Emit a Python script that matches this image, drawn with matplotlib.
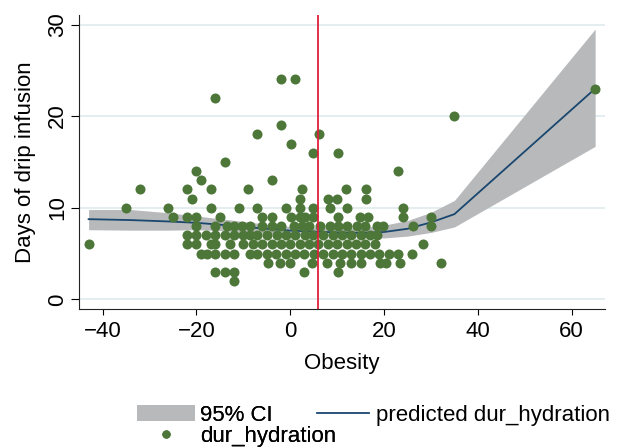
import matplotlib
matplotlib.use("Agg")
import matplotlib.pyplot as plt
from matplotlib.patches import Patch
from matplotlib.lines import Line2D

plt.rcParams['font.family'] = ['Liberation Sans', 'DejaVu Sans']

# ---- data: observed points, grouped by y value (days) ----
rows = {
    24: [-2, 1],
    23: [65],
    22: [-16],
    20: [35],
    19: [-2],
    18: [-7.2, 6.2],
    17: [0.1],
    16: [4.9, 10.1],
    15: [-14],
    14: [-20, 23],
    13: [-19, -4],
    12: [-32, -22, -17, -9, 2.5, 11.9, 16.1],
    11: [-21, 2, 8.1, 9.9, 16.1],
    10: [-35, -26, -17, -11, -7.2, -1, 2.1, 4.9, 8.5, 12, 24.1],
    9: [-25, -22, -20, -15, -6, -4, 0.1, 2.1, 3.1, 4.9, 10.2, 14.9, 16.6, 24.1, 30.1],
    8: [-20, -16, -13.6, -12, -10.4, -8.6, -6, -4, -2, 0.7, 2.5, 4, 6.3, 8.5, 10.2, 12, 14.2, 15.9, 18.4, 19.8, 26.1, 30.1],
    7: [-22, -20, -18, -16, -13.9, -12, -10, -8.6, -7, -5, -2.9, -1, 1, 3.1, 4.9, 7, 9, 11, 13, 15, 17, 18.5],
    6: [-43, -22, -20, -17, -16, -12.9, -10, -7.9, -6, -4, -2, 0, 2, 4, 6, 8, 10, 12, 14, 16, 18, 28.4],
    5: [-19, -17.8, -16, -13.9, -12, -8.6, -7, -5, -3, -1, 1, 3, 5, 7, 9, 11, 13, 15, 17, 19, 21, 23, 26],
    4: [-4.7, -2.2, -0.1, 4.6, 7.8, 10.5, 13, 15, 19.1, 20.5, 23.3, 32.2],
    3: [-16, -13.9, -12, 3, 10.1],
    2: [-12],
}
obs_x = [x for yv, xs in rows.items() for x in xs]
obs_y = [yv for yv, xs in rows.items() for x in xs]

# ---- data: predicted line and 95% CI ----
fit_x = [-43, -34, -26, -20, -15, -10, -5, 0, 5, 10, 15, 20, 25, 30, 35, 65]
fit_y = [8.75, 8.65, 8.5, 8.35, 8.15, 7.9, 7.7, 7.5, 7.4, 7.3, 7.25, 7.35, 7.7, 8.4, 9.3, 23]
ci_hi = [9.8, 9.8, 9.45, 9.1, 8.8, 8.5, 8.2, 7.95, 7.85, 7.8, 7.8, 8.1, 8.6, 9.5, 10.8, 29.5]
ci_lo = [7.6, 7.55, 7.55, 7.6, 7.5, 7.3, 7.2, 7.1, 7.0, 6.9, 6.8, 6.7, 6.9, 7.3, 7.9, 16.7]

cutoff = 6
xticks = [-40, -20, 0, 20, 40, 60]
yticks = [0, 10, 20, 30]

C_CI = '#b8b9bb'
C_LINE = '#1a476f'
C_PT = '#4d7639'
C_RED = '#e0203a'
C_GRID = '#dfeaed'

fig = plt.figure(figsize=(6.17, 4.47), dpi=100)
ax = fig.add_axes([79/617, 1-309.3/447, (605-79)/617, (309.3-14.7)/447])

ax.fill_between(fit_x, ci_lo, ci_hi, color=C_CI, lw=0, zorder=2)
ax.plot(fit_x, fit_y, color=C_LINE, lw=1.3, zorder=3)
ax.scatter(obs_x, obs_y, s=52, color=C_PT, linewidths=0, zorder=4)
ax.axvline(cutoff, color=C_RED, lw=1.3, zorder=5)

ax.set_xlim(-45.05, 67.1)
ax.set_ylim(-1.09, 31.07)
ax.set_xticks(xticks)
ax.set_yticks(yticks)
ax.grid(axis='y', color=C_GRID, lw=1.2, zorder=0)
ax.set_axisbelow(True)
for s in ['top', 'right']:
    ax.spines[s].set_visible(False)
for s in ['left', 'bottom']:
    ax.spines[s].set_linewidth(0.8)
    ax.spines[s].set_color('#222222')
ax.tick_params(axis='x', length=4.5, width=0.8, labelsize=16, pad=4)
ax.tick_params(axis='y', length=6, width=0.8, labelsize=16, pad=2, labelrotation=90)
for lab in ax.get_yticklabels():
    lab.set_va('center')
ax.set_xlabel('Obesity', fontsize=16, labelpad=8)
ax.set_ylabel('Days of drip infusion', fontsize=16, labelpad=8)

common = dict(frameon=False, fontsize=16, loc='upper left', borderpad=0,
              borderaxespad=0, handlelength=2.6, handleheight=0.76,
              labelspacing=0.0)
leg1 = fig.legend([Patch(facecolor=C_CI, edgecolor='none'),
                   Line2D([], [], marker='o', ls='none', color=C_PT, ms=6, mew=0)],
                  ['95% CI', 'dur_hydration'],
                  bbox_to_anchor=(137/617, 1-405/447), handletextpad=0.25, **common)
leg2 = fig.legend([Line2D([], [], color=C_LINE, lw=1.3)],
                  ['predicted dur_hydration'],
                  bbox_to_anchor=(317/617, 1-405/447), handletextpad=0.3,
                  **dict(common, handlelength=2.35))
fig.add_artist(leg1)

fig.savefig('out.png', dpi=100)
